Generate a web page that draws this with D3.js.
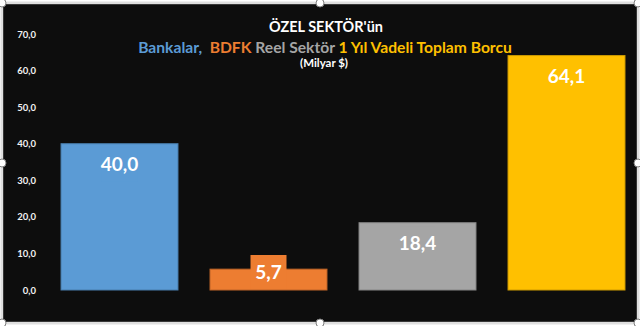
<!DOCTYPE html>
<html>
<head>
<meta charset="utf-8">
<script src="https://cdn.jsdelivr.net/npm/d3@7/dist/d3.min.js"></script>
<style>
  html, body { margin: 0; padding: 0; background: #ffffff; }
  svg { display: block; }
  text { font-family: Lato, "Open Sans", sans-serif; }
</style>
</head>
<body>
<svg id="chart" width="640" height="326"></svg>
<script>
// Özel sektör 1 yıl vadeli toplam borç (milyar $)
const categories = ["Bankalar", "BDFK", "Reel Sektör", "Toplam"];
const values = [40.0, 5.7, 18.4, 64.1];
const colors = ["#5b9bd5", "#ed7d31", "#a5a5a5", "#ffc000"];
const yTicks = [0, 10, 20, 30, 40, 50, 60, 70];
const titleLine1 = "ÖZEL SEKTÖR'ün";
const titleParts = [
  { t: "Bankalar,", c: "#5b9bd5" },
  { t: "  BDFK", c: "#ed7d31" },
  { t: " Reel Sektör", c: "#a5a5a5" },
  { t: " 1 Yıl Vadeli Toplam Borcu", c: "#ffc000" }
];
const unitLabel = "(Milyar $)";

const fmt = v => v.toFixed(1).replace(".", ",");

const svg = d3.select("#chart");

// chart area
svg.append("rect").attr("x", 2).attr("y", 3).attr("width", 636).attr("height", 320)
  .attr("fill", "#0d0d0d");

const x = d3.scaleBand().domain(categories).range([45, 641])
  .paddingInner(0.215).paddingOuter(0.1075);
const y = d3.scaleLinear().domain([0, 70]).range([290, 34]);

// y axis labels only (no axis line, no gridlines)
const yAxis = d3.axisLeft(y).tickValues(yTicks).tickFormat(fmt).tickSize(0).tickPadding(0);
const ga = svg.append("g").attr("transform", "translate(36,0)").call(yAxis);
ga.select(".domain").remove();
ga.selectAll("text").attr("fill", "#f2f2f2").attr("font-size", "9.5px")
  .attr("font-weight", "bold").attr("font-family", "Lato, sans-serif");

// bars
svg.append("g").selectAll("rect").data(values).join("rect")
  .attr("x", (d, i) => x(categories[i]))
  .attr("y", d => y(d))
  .attr("width", x.bandwidth())
  .attr("height", d => y(0) - y(d))
  .attr("fill", (d, i) => colors[i])
  .attr("stroke", (d, i) => d3.color(colors[i]).darker(0.6))
  .attr("stroke-width", 1);

// value labels with filled boxes
const lab = svg.append("g").selectAll("g").data(values).join("g")
  .attr("transform", (d, i) => {
    const cx = x(categories[i]) + x.bandwidth() / 2;
    const cy = Math.min(y(d) + 21, y(0) - 18);
    return `translate(${cx},${cy})`;
  });
lab.append("rect").attr("x", -18).attr("y", -17).attr("width", 36).attr("height", 34)
  .attr("fill", (d, i) => colors[i]);
lab.append("text").attr("text-anchor", "middle").attr("dy", "0.35em")
  .attr("fill", "#ffffff").attr("font-weight", "bold").attr("font-size", "19px")
  .text(fmt);

// fit a text element's font size so that it spans the given width
function fitWidth(sel, base, width) {
  sel.attr("font-size", base + "px");
  const w = sel.node().getComputedTextLength();
  sel.attr("font-size", (base * width / w).toFixed(2) + "px");
}

// titles
const t1 = svg.append("text").attr("x", 326).attr("y", 32).attr("text-anchor", "middle")
  .attr("fill", "#ffffff").attr("font-weight", "bold").text(titleLine1);
fitWidth(t1, 14, 114);

const t2 = svg.append("text").attr("x", 325).attr("y", 53).attr("text-anchor", "middle")
  .attr("font-weight", "bold").style("white-space", "pre");
t2.selectAll("tspan").data(titleParts).join("tspan")
  .attr("fill", d => d.c).text(d => d.t);
fitWidth(t2, 14, 374);

const t3 = svg.append("text").attr("x", 324).attr("y", 67).attr("text-anchor", "middle")
  .attr("fill", "#ffffff").attr("font-weight", "bold").text(unitLabel);
fitWidth(t3, 9, 48);

// selection border and handles
svg.append("rect").attr("x", 2).attr("y", 3).attr("width", 636).attr("height", 320)
  .attr("fill", "none").attr("stroke", "#bfbfbf").attr("stroke-width", 2.5);
svg.append("rect").attr("x", 2).attr("y", 3).attr("width", 636).attr("height", 320)
  .attr("fill", "none").attr("stroke", "#ffffff").attr("stroke-width", 1);
const handles = [[2, 3], [320, 3], [638, 3], [2, 163], [638, 163], [2, 323], [320, 323], [638, 323]];
svg.append("g").selectAll("circle").data(handles).join("circle")
  .attr("cx", d => d[0]).attr("cy", d => d[1]).attr("r", 4)
  .attr("fill", "#ffffff").attr("stroke", "#7f7f7f").attr("stroke-width", 1);
</script>
</body>
</html>
